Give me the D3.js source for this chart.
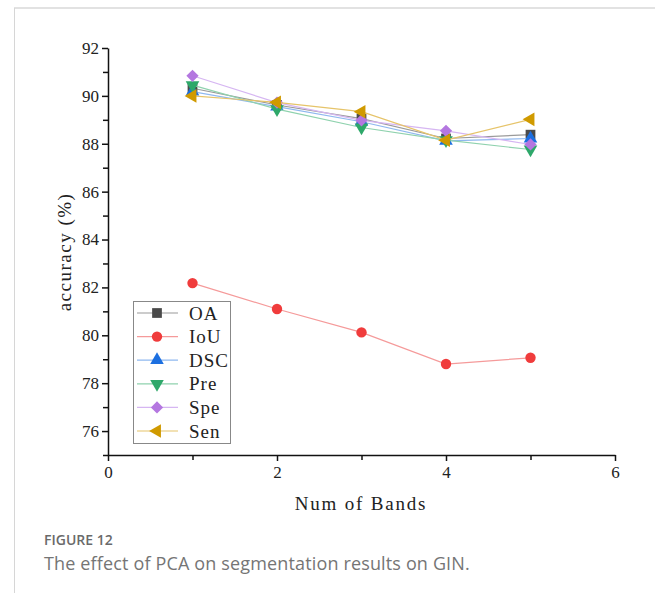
<!DOCTYPE html>
<html>
<head>
<meta charset="utf-8">
<script src="https://cdn.jsdelivr.net/npm/d3@7"></script>
<style>
  body { margin: 0; background: #fff; }
  svg { display: block; }
  .tick text { font-family: "Liberation Serif", "DejaVu Serif", serif; }
</style>
</head>
<body>
<div id="chart"></div>
<script>
// x values (number of bands)
var bands = [1, 2, 3, 4, 5];

// series values
var oa  = [90.32, 89.62, 89.05, 88.22, 88.38];
var iou = [82.18, 81.1, 80.12, 78.8, 79.06];
var dsc = [90.18, 89.55, 88.92, 88.12, 88.22];
var pre = [90.45, 89.45, 88.68, 88.15, 87.76];
var spe = [90.84, 89.72, 88.98, 88.54, 87.97];
var sen = [90.0, 89.73, 89.34, 88.15, 89.02];

var seriesNames = ["OA", "IoU", "DSC", "Pre", "Spe", "Sen"];
var xTicks = [0, 2, 4, 6];
var yTicks = [76, 78, 80, 82, 84, 86, 88, 90, 92];

var width = 655, height = 593;

var svg = d3.select("#chart").append("svg")
    .attr("width", width)
    .attr("height", height);

// page frame (light gray)
svg.append("line").attr("x1", 14).attr("x2", 655).attr("y1", 8).attr("y2", 8)
    .attr("stroke", "#e2e2e2").attr("stroke-width", 2);
svg.append("line").attr("x1", 14.5).attr("x2", 14.5).attr("y1", 8).attr("y2", 593)
    .attr("stroke", "#d6d6d6").attr("stroke-width", 1);

var x = d3.scaleLinear().domain([0, 6]).range([108, 615]);
var y = d3.scaleLinear().domain([75, 92]).range([455, 48]);

var serif = "'Liberation Serif', 'DejaVu Serif', serif";

// axes
var xAxis = svg.append("g")
    .attr("transform", "translate(0,455)")
    .call(d3.axisBottom(x).tickValues(d3.range(0, 7, 1)).tickSize(5).tickSizeOuter(0)
        .tickFormat(function (d) { return xTicks.indexOf(d) >= 0 ? d : ""; }));
var yAxis = svg.append("g")
    .attr("transform", "translate(108,0)")
    .call(d3.axisLeft(y).tickValues(d3.range(75, 93, 1)).tickSize(5).tickSizeOuter(0)
        .tickFormat(function (d) { return yTicks.indexOf(d) >= 0 ? d : ""; }));

[xAxis, yAxis].forEach(function (g) {
    g.attr("font-family", serif).attr("font-size", 17);
    g.select(".domain").attr("stroke", "#111").attr("stroke-width", 1.5);
    g.selectAll(".tick line").attr("stroke", "#111").attr("stroke-width", 1.5);
    g.selectAll(".tick text")
        .attr("font-family", serif)
        .attr("font-size", 17)
        .attr("fill", "#222");
});
// major ticks slightly longer
xAxis.selectAll(".tick").filter(function (d) { return d % 2 === 0; })
    .select("line").attr("y2", 6);
xAxis.selectAll(".tick text").attr("y", 11);
yAxis.selectAll(".tick").filter(function (d) { return d % 2 === 0; })
    .select("line").attr("x2", -6);
yAxis.selectAll(".tick text").attr("x", -9);

// axis titles
svg.append("text")
    .attr("x", 361).attr("y", 510)
    .attr("text-anchor", "middle")
    .style("font-family", serif)
    .style("font-size", "19px")
    .style("letter-spacing", "1.8px")
    .attr("fill", "#222")
    .text("Num of Bands");

svg.append("text")
    .attr("transform", "translate(71,252) rotate(-90)")
    .attr("text-anchor", "middle")
    .style("font-family", serif)
    .style("font-size", "19px")
    .style("letter-spacing", "1.5px")
    .attr("fill", "#222")
    .text("accuracy (%)");

// series styling
var allData = [oa, iou, dsc, pre, spe, sen];
var markerColors = ["#4a4a4a", "#f03c3c", "#1c6fe0", "#2ea86a", "#b477e0", "#d09a00"];
var lineColors = ["#9a9a9a", "#f59a9a", "#8fb8ef", "#8fd2ae", "#d6b6f2", "#e6c46a"];
var symbols = [
    {type: d3.symbolSquare, size: 95, rot: 0},
    {type: d3.symbolCircle, size: 85, rot: 0},
    {type: d3.symbolTriangle, size: 80, rot: 0},
    {type: d3.symbolTriangle, size: 80, rot: 180},
    {type: d3.symbolSquare, size: 75, rot: 45},
    {type: d3.symbolTriangle, size: 80, rot: -90}
];

var line = d3.line()
    .x(function (d, i) { return x(bands[i]); })
    .y(function (d) { return y(d); });

allData.forEach(function (vals, s) {
    var g = svg.append("g");
    g.append("path")
        .attr("d", line(vals))
        .attr("fill", "none")
        .attr("stroke", lineColors[s])
        .attr("stroke-width", 1.2);
    g.selectAll("path.pt")
        .data(vals)
        .enter().append("path")
        .attr("class", "pt")
        .attr("d", d3.symbol().type(symbols[s].type).size(symbols[s].size))
        .attr("transform", function (d, i) {
            return "translate(" + x(bands[i]) + "," + y(d) + ") rotate(" + symbols[s].rot + ")";
        })
        .attr("fill", markerColors[s]);
});

// legend
var legend = svg.append("g");
legend.append("rect")
    .attr("x", 133.5).attr("y", 301.5)
    .attr("width", 97).attr("height", 142)
    .attr("fill", "#fff")
    .attr("stroke", "#888")
    .attr("stroke-width", 1);

seriesNames.forEach(function (name, s) {
    var ly = 313 + s * 23.6;
    legend.append("line")
        .attr("x1", 137).attr("x2", 178)
        .attr("y1", ly).attr("y2", ly)
        .attr("stroke", lineColors[s])
        .attr("stroke-width", 1.2);
    legend.append("path")
        .attr("d", d3.symbol().type(symbols[s].type).size(symbols[s].size))
        .attr("transform", "translate(157," + ly + ") rotate(" + symbols[s].rot + ")")
        .attr("fill", markerColors[s]);
    legend.append("text")
        .attr("x", 189).attr("y", ly + 6.5)
        .style("font-family", serif)
        .style("font-size", "19px")
        .style("letter-spacing", "1px")
        .attr("fill", "#222")
        .text(name);
});

// caption
svg.append("text")
    .attr("x", 44).attr("y", 545)
    .style("font-family", "'Open Sans', sans-serif")
    .style("font-size", "14px")
    .style("font-weight", "600")
    .attr("fill", "#6a6a6a")
    .text("FIGURE 12");
svg.append("text")
    .attr("x", 44).attr("y", 570)
    .style("font-family", "'Open Sans', sans-serif")
    .style("font-size", "18px")
    .style("letter-spacing", "0.15px")
    .attr("fill", "#757575")
    .text("The effect of PCA on segmentation results on GIN.");
</script>
</body>
</html>
